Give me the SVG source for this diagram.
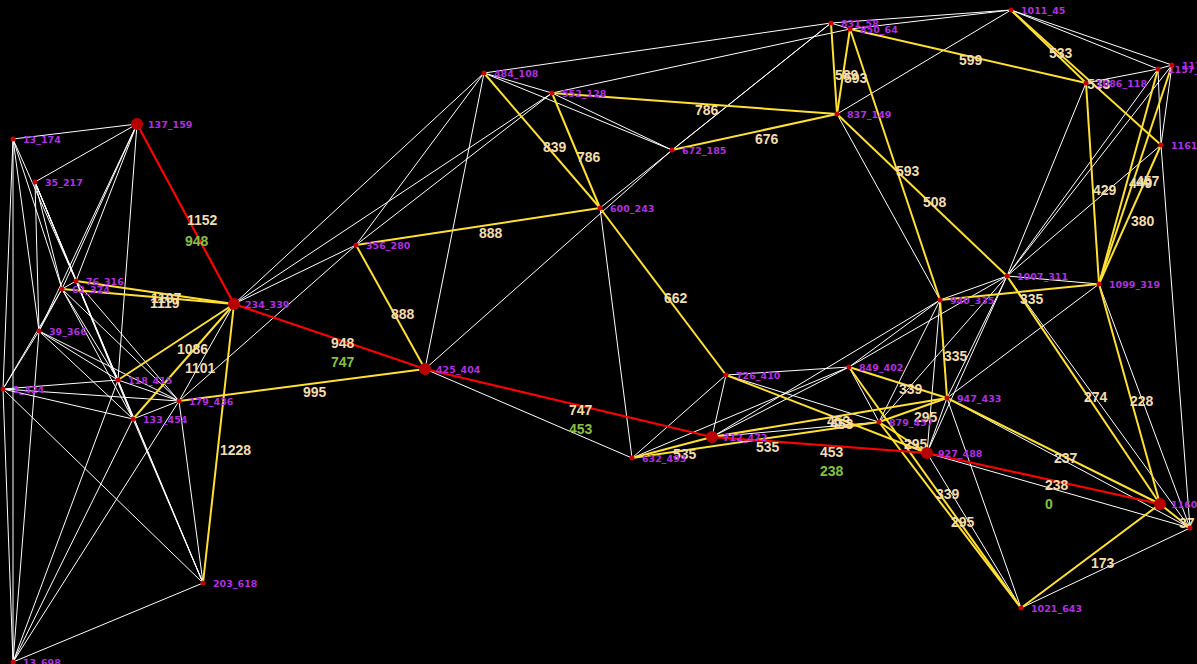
<svg xmlns="http://www.w3.org/2000/svg" width="1197" height="664" viewBox="0 0 1197 664">
<style>
.w{stroke:#ffffff;stroke-width:1;fill:none}
.y{stroke:#ffe033;stroke-width:2;fill:none}
.r{stroke:#ff0000;stroke-width:2.2;fill:none}
.n{fill:#c80000}
.N{fill:#b80000}
.lb{font-family:"DejaVu Sans",sans-serif;font-weight:bold;font-size:9.5px;fill:#b030e0}
.el{font-family:"Liberation Sans",Arial,sans-serif;font-weight:bold;font-size:14px;fill:#f3dcae}
.gl{font-family:"Liberation Sans",Arial,sans-serif;font-weight:bold;font-size:14px;fill:#86c040}
</style>
<rect width="1197" height="664" fill="#000"/>
<g id="connectors">
<g id="white-edges">
<line class="w" x1="13" y1="139" x2="137" y2="124"/>
<line class="w" x1="35" y1="182" x2="137" y2="124"/>
<line class="w" x1="13" y1="139" x2="62" y2="289"/>
<line class="w" x1="13" y1="139" x2="76" y2="281"/>
<line class="w" x1="13" y1="139" x2="39" y2="331"/>
<line class="w" x1="13" y1="139" x2="3" y2="389"/>
<line class="w" x1="13" y1="139" x2="13" y2="662"/>
<line class="w" x1="35" y1="182" x2="39" y2="331"/>
<line class="w" x1="35" y1="182" x2="62" y2="289"/>
<line class="w" x1="35" y1="182" x2="76" y2="281"/>
<line class="w" x1="35" y1="182" x2="118" y2="380"/>
<line class="w" x1="35" y1="182" x2="133" y2="419"/>
<line class="w" x1="35" y1="182" x2="203" y2="583"/>
<line class="w" x1="137" y1="124" x2="62" y2="289"/>
<line class="w" x1="137" y1="124" x2="76" y2="281"/>
<line class="w" x1="137" y1="124" x2="39" y2="331"/>
<line class="w" x1="137" y1="124" x2="118" y2="380"/>
<line class="w" x1="62" y1="289" x2="76" y2="281"/>
<line class="w" x1="62" y1="289" x2="39" y2="331"/>
<line class="w" x1="62" y1="289" x2="3" y2="389"/>
<line class="w" x1="62" y1="289" x2="118" y2="380"/>
<line class="w" x1="62" y1="289" x2="179" y2="401"/>
<line class="w" x1="62" y1="289" x2="133" y2="419"/>
<line class="w" x1="76" y1="281" x2="179" y2="401"/>
<line class="w" x1="76" y1="281" x2="203" y2="583"/>
<line class="w" x1="39" y1="331" x2="3" y2="389"/>
<line class="w" x1="39" y1="331" x2="118" y2="380"/>
<line class="w" x1="39" y1="331" x2="179" y2="401"/>
<line class="w" x1="39" y1="331" x2="133" y2="419"/>
<line class="w" x1="39" y1="331" x2="13" y2="662"/>
<line class="w" x1="3" y1="389" x2="118" y2="380"/>
<line class="w" x1="3" y1="389" x2="179" y2="401"/>
<line class="w" x1="3" y1="389" x2="133" y2="419"/>
<line class="w" x1="3" y1="389" x2="203" y2="583"/>
<line class="w" x1="3" y1="389" x2="13" y2="662"/>
<line class="w" x1="118" y1="380" x2="179" y2="401"/>
<line class="w" x1="118" y1="380" x2="133" y2="419"/>
<line class="w" x1="118" y1="380" x2="13" y2="662"/>
<line class="w" x1="133" y1="419" x2="179" y2="401"/>
<line class="w" x1="133" y1="419" x2="13" y2="662"/>
<line class="w" x1="133" y1="419" x2="203" y2="583"/>
<line class="w" x1="179" y1="401" x2="203" y2="583"/>
<line class="w" x1="179" y1="401" x2="13" y2="662"/>
<line class="w" x1="203" y1="583" x2="13" y2="662"/>
<line class="w" x1="179" y1="401" x2="234" y2="304"/>
<line class="w" x1="179" y1="401" x2="356" y2="245"/>
<line class="w" x1="234" y1="304" x2="356" y2="245"/>
<line class="w" x1="234" y1="304" x2="484" y2="73"/>
<line class="w" x1="234" y1="304" x2="552" y2="93"/>
<line class="w" x1="356" y1="245" x2="484" y2="73"/>
<line class="w" x1="356" y1="245" x2="552" y2="93"/>
<line class="w" x1="425" y1="369" x2="484" y2="73"/>
<line class="w" x1="425" y1="369" x2="672" y2="150"/>
<line class="w" x1="425" y1="369" x2="632" y2="458"/>
<line class="w" x1="484" y1="73" x2="552" y2="93"/>
<line class="w" x1="484" y1="73" x2="672" y2="150"/>
<line class="w" x1="552" y1="93" x2="672" y2="150"/>
<line class="w" x1="484" y1="73" x2="831" y2="23"/>
<line class="w" x1="552" y1="93" x2="850" y2="29"/>
<line class="w" x1="600" y1="208" x2="831" y2="23"/>
<line class="w" x1="672" y1="150" x2="831" y2="23"/>
<line class="w" x1="600" y1="208" x2="632" y2="458"/>
<line class="w" x1="632" y1="458" x2="726" y2="375"/>
<line class="w" x1="632" y1="458" x2="849" y2="367"/>
<line class="w" x1="712" y1="437" x2="726" y2="375"/>
<line class="w" x1="712" y1="437" x2="849" y2="367"/>
<line class="w" x1="712" y1="437" x2="879" y2="422"/>
<line class="w" x1="712" y1="437" x2="940" y2="300"/>
<line class="w" x1="726" y1="375" x2="849" y2="367"/>
<line class="w" x1="726" y1="375" x2="879" y2="422"/>
<line class="w" x1="831" y1="23" x2="850" y2="29"/>
<line class="w" x1="831" y1="23" x2="1011" y2="10"/>
<line class="w" x1="850" y1="29" x2="1011" y2="10"/>
<line class="w" x1="837" y1="114" x2="1011" y2="10"/>
<line class="w" x1="837" y1="114" x2="940" y2="300"/>
<line class="w" x1="1011" y1="10" x2="1158" y2="69"/>
<line class="w" x1="1011" y1="10" x2="1172" y2="65"/>
<line class="w" x1="1086" y1="83" x2="1158" y2="69"/>
<line class="w" x1="1158" y1="69" x2="1172" y2="65"/>
<line class="w" x1="1158" y1="69" x2="1161" y2="145"/>
<line class="w" x1="1172" y1="65" x2="1161" y2="145"/>
<line class="w" x1="1007" y1="276" x2="1086" y2="83"/>
<line class="w" x1="1007" y1="276" x2="1158" y2="69"/>
<line class="w" x1="1007" y1="276" x2="1172" y2="65"/>
<line class="w" x1="1007" y1="276" x2="1161" y2="145"/>
<line class="w" x1="1161" y1="145" x2="1190" y2="528"/>
<line class="w" x1="849" y1="367" x2="879" y2="422"/>
<line class="w" x1="849" y1="367" x2="940" y2="300"/>
<line class="w" x1="849" y1="367" x2="1007" y2="276"/>
<line class="w" x1="879" y1="422" x2="940" y2="300"/>
<line class="w" x1="879" y1="422" x2="1007" y2="276"/>
<line class="w" x1="927" y1="453" x2="940" y2="300"/>
<line class="w" x1="927" y1="453" x2="1007" y2="276"/>
<line class="w" x1="927" y1="453" x2="947" y2="398"/>
<line class="w" x1="947" y1="398" x2="1007" y2="276"/>
<line class="w" x1="947" y1="398" x2="1099" y2="284"/>
<line class="w" x1="940" y1="300" x2="1007" y2="276"/>
<line class="w" x1="1007" y1="276" x2="1099" y2="284"/>
<line class="w" x1="947" y1="398" x2="1021" y2="608"/>
<line class="w" x1="927" y1="453" x2="1021" y2="608"/>
<line class="w" x1="927" y1="453" x2="1190" y2="528"/>
<line class="w" x1="947" y1="398" x2="1190" y2="528"/>
<line class="w" x1="1021" y1="608" x2="1190" y2="528"/>
<line class="w" x1="1007" y1="276" x2="1190" y2="528"/>
<line class="w" x1="1099" y1="284" x2="1190" y2="528"/>
</g>
<g id="yellow-edges">
<line class="y" x1="76" y1="281" x2="234" y2="304"/>
<line class="y" x1="62" y1="289" x2="234" y2="304"/>
<line class="y" x1="118" y1="380" x2="234" y2="304"/>
<line class="y" x1="133" y1="419" x2="234" y2="304"/>
<line class="y" x1="179" y1="401" x2="425" y2="369"/>
<line class="y" x1="203" y1="583" x2="234" y2="304"/>
<line class="y" x1="356" y1="245" x2="600" y2="208"/>
<line class="y" x1="356" y1="245" x2="425" y2="369"/>
<line class="y" x1="484" y1="73" x2="600" y2="208"/>
<line class="y" x1="552" y1="93" x2="600" y2="208"/>
<line class="y" x1="552" y1="93" x2="837" y2="114"/>
<line class="y" x1="672" y1="150" x2="837" y2="114"/>
<line class="y" x1="600" y1="208" x2="726" y2="375"/>
<line class="y" x1="831" y1="23" x2="837" y2="114"/>
<line class="y" x1="850" y1="29" x2="837" y2="114"/>
<line class="y" x1="850" y1="29" x2="940" y2="300"/>
<line class="y" x1="837" y1="114" x2="1007" y2="276"/>
<line class="y" x1="850" y1="29" x2="1086" y2="83"/>
<line class="y" x1="1011" y1="10" x2="1086" y2="83"/>
<line class="y" x1="1011" y1="10" x2="1161" y2="145"/>
<line class="y" x1="1086" y1="83" x2="1099" y2="284"/>
<line class="y" x1="1158" y1="69" x2="1099" y2="284"/>
<line class="y" x1="1172" y1="65" x2="1099" y2="284"/>
<line class="y" x1="1161" y1="145" x2="1099" y2="284"/>
<line class="y" x1="1007" y1="276" x2="1160" y2="504"/>
<line class="y" x1="1099" y1="284" x2="1160" y2="504"/>
<line class="y" x1="940" y1="300" x2="1099" y2="284"/>
<line class="y" x1="940" y1="300" x2="947" y2="398"/>
<line class="y" x1="849" y1="367" x2="947" y2="398"/>
<line class="y" x1="947" y1="398" x2="1160" y2="504"/>
<line class="y" x1="879" y1="422" x2="947" y2="398"/>
<line class="y" x1="879" y1="422" x2="927" y2="453"/>
<line class="y" x1="849" y1="367" x2="1021" y2="608"/>
<line class="y" x1="879" y1="422" x2="1021" y2="608"/>
<line class="y" x1="1021" y1="608" x2="1160" y2="504"/>
<line class="y" x1="1160" y1="504" x2="1190" y2="528"/>
<line class="y" x1="632" y1="458" x2="712" y2="437"/>
<line class="y" x1="632" y1="458" x2="879" y2="422"/>
<line class="y" x1="712" y1="437" x2="947" y2="398"/>
<line class="y" x1="726" y1="375" x2="927" y2="453"/>
</g>
<g id="red-path">
<line class="r" x1="137" y1="124" x2="234" y2="304"/>
<line class="r" x1="234" y1="304" x2="425" y2="369"/>
<line class="r" x1="425" y1="369" x2="712" y2="437"/>
<line class="r" x1="712" y1="437" x2="927" y2="453"/>
<line class="r" x1="927" y1="453" x2="1160" y2="504"/>
</g>
</g>
<g id="edge-labels">
<text class="el" x="187" y="225">1152</text><text class="gl" x="185" y="246">948</text>
<text class="el" x="331" y="348">948</text><text class="gl" x="331" y="367">747</text>
<text class="el" x="569" y="415">747</text><text class="gl" x="569" y="434">453</text>
<text class="el" x="820" y="457">453</text><text class="gl" x="820" y="476">238</text>
<text class="el" x="1045" y="490">238</text><text class="gl" x="1045" y="509">0</text>
<text class="el" x="151" y="303">1107</text>
<text class="el" x="150" y="308">1119</text>
<text class="el" x="177" y="354">1086</text>
<text class="el" x="185" y="373">1101</text>
<text class="el" x="303" y="397">995</text>
<text class="el" x="220" y="455">1228</text>
<text class="el" x="479" y="238">888</text>
<text class="el" x="391" y="319">888</text>
<text class="el" x="543" y="152">839</text>
<text class="el" x="577" y="162">786</text>
<text class="el" x="695" y="115">786</text>
<text class="el" x="755" y="144">676</text>
<text class="el" x="664" y="303">662</text>
<text class="el" x="835" y="80">589</text>
<text class="el" x="844" y="83">593</text>
<text class="el" x="896" y="176">593</text>
<text class="el" x="923" y="207">508</text>
<text class="el" x="959" y="65">599</text>
<text class="el" x="1049" y="58">533</text>
<text class="el" x="1087" y="89">533</text>
<text class="el" x="1093" y="195">429</text>
<text class="el" x="1129" y="188">449</text>
<text class="el" x="1136" y="186">457</text>
<text class="el" x="1131" y="226">380</text>
<text class="el" x="1084" y="402">274</text>
<text class="el" x="1130" y="406">228</text>
<text class="el" x="1020" y="304">335</text>
<text class="el" x="944" y="361">335</text>
<text class="el" x="899" y="394">339</text>
<text class="el" x="1054" y="463">237</text>
<text class="el" x="914" y="422">295</text>
<text class="el" x="904" y="449">295</text>
<text class="el" x="936" y="499">339</text>
<text class="el" x="951" y="527">295</text>
<text class="el" x="1091" y="568">173</text>
<text class="el" x="1179" y="528">37</text>
<text class="el" x="673" y="459">535</text>
<text class="el" x="756" y="452">535</text>
<text class="el" x="830" y="429">453</text>
<text class="el" x="827" y="426">453</text>
</g>
<g id="n13_174"><circle class="n" cx="13" cy="139" r="2.5"/><text class="lb" x="23" y="143">13_174</text></g>
<g id="n35_217"><circle class="n" cx="35" cy="182" r="2.5"/><text class="lb" x="45" y="186">35_217</text></g>
<g id="n76_316"><circle class="n" cx="76" cy="281" r="2.5"/><text class="lb" x="86" y="285">76_316</text></g>
<g id="n62_324"><circle class="n" cx="62" cy="289" r="2.5"/><text class="lb" x="72" y="293">62_324</text></g>
<g id="n39_366"><circle class="n" cx="39" cy="331" r="2.5"/><text class="lb" x="49" y="335">39_366</text></g>
<g id="n1_424"><circle class="n" cx="3" cy="389" r="2.5"/><text class="lb" x="13" y="393">1_424</text></g>
<g id="n118_415"><circle class="n" cx="118" cy="380" r="2.5"/><text class="lb" x="128" y="384">118_415</text></g>
<g id="n179_436"><circle class="n" cx="179" cy="401" r="2.5"/><text class="lb" x="189" y="405">179_436</text></g>
<g id="n133_454"><circle class="n" cx="133" cy="419" r="2.5"/><text class="lb" x="143" y="423">133_454</text></g>
<g id="n203_618"><circle class="n" cx="203" cy="583" r="2.5"/><text class="lb" x="213" y="587">203_618</text></g>
<g id="n13_698"><circle class="n" cx="13" cy="662" r="2.5"/><text class="lb" x="23" y="666">13_698</text></g>
<g id="n137_159"><circle class="N" cx="137" cy="124" r="6"/><text class="lb" x="148" y="128">137_159</text></g>
<g id="n234_339"><circle class="N" cx="234" cy="304" r="6"/><text class="lb" x="245" y="308">234_339</text></g>
<g id="n356_280"><circle class="n" cx="356" cy="245" r="2.5"/><text class="lb" x="366" y="249">356_280</text></g>
<g id="n425_404"><circle class="N" cx="425" cy="369" r="6"/><text class="lb" x="436" y="373">425_404</text></g>
<g id="n484_108"><circle class="n" cx="484" cy="73" r="2.5"/><text class="lb" x="494" y="77">484_108</text></g>
<g id="n552_128"><circle class="n" cx="552" cy="93" r="2.5"/><text class="lb" x="562" y="97">552_128</text></g>
<g id="n600_243"><circle class="n" cx="600" cy="208" r="2.5"/><text class="lb" x="610" y="212">600_243</text></g>
<g id="n672_185"><circle class="n" cx="672" cy="150" r="2.5"/><text class="lb" x="682" y="154">672_185</text></g>
<g id="n726_410"><circle class="n" cx="726" cy="375" r="2.5"/><text class="lb" x="736" y="379">726_410</text></g>
<g id="n712_472"><circle class="N" cx="712" cy="437" r="6"/><text class="lb" x="723" y="441">712_472</text></g>
<g id="n632_493"><circle class="n" cx="632" cy="458" r="2.5"/><text class="lb" x="642" y="462">632_493</text></g>
<g id="n831_58"><circle class="n" cx="831" cy="23" r="2.5"/><text class="lb" x="841" y="27">831_58</text></g>
<g id="n850_64"><circle class="n" cx="850" cy="29" r="2.5"/><text class="lb" x="860" y="33">850_64</text></g>
<g id="n837_149"><circle class="n" cx="837" cy="114" r="2.5"/><text class="lb" x="847" y="118">837_149</text></g>
<g id="n1011_45"><circle class="n" cx="1011" cy="10" r="2.5"/><text class="lb" x="1021" y="14">1011_45</text></g>
<g id="n1086_118"><circle class="n" cx="1086" cy="83" r="2.5"/><text class="lb" x="1096" y="87">1086_118</text></g>
<g id="n1157_104"><circle class="n" cx="1158" cy="69" r="2.5"/><text class="lb" x="1168" y="73">1157_104</text></g>
<g id="n1171_100"><circle class="n" cx="1172" cy="65" r="2.5"/><text class="lb" x="1182" y="69">1171_100</text></g>
<g id="n1161_180"><circle class="n" cx="1161" cy="145" r="2.5"/><text class="lb" x="1171" y="149">1161_180</text></g>
<g id="n849_402"><circle class="n" cx="849" cy="367" r="2.5"/><text class="lb" x="859" y="371">849_402</text></g>
<g id="n940_335"><circle class="n" cx="940" cy="300" r="2.5"/><text class="lb" x="950" y="304">940_335</text></g>
<g id="n1007_311"><circle class="n" cx="1007" cy="276" r="2.5"/><text class="lb" x="1017" y="280">1007_311</text></g>
<g id="n1099_319"><circle class="n" cx="1099" cy="284" r="2.5"/><text class="lb" x="1109" y="288">1099_319</text></g>
<g id="n947_433"><circle class="n" cx="947" cy="398" r="2.5"/><text class="lb" x="957" y="402">947_433</text></g>
<g id="n879_457"><circle class="n" cx="879" cy="422" r="2.5"/><text class="lb" x="889" y="426">879_457</text></g>
<g id="n927_488"><circle class="N" cx="927" cy="453" r="6"/><text class="lb" x="938" y="457">927_488</text></g>
<g id="n1160_539"><circle class="N" cx="1160" cy="504" r="6"/><text class="lb" x="1171" y="508">1160_539</text></g>
<g id="n1190_563"><circle class="n" cx="1190" cy="528" r="2.5"/></g>
<g id="n1021_643"><circle class="n" cx="1021" cy="608" r="2.5"/><text class="lb" x="1031" y="612">1021_643</text></g>
</svg>
